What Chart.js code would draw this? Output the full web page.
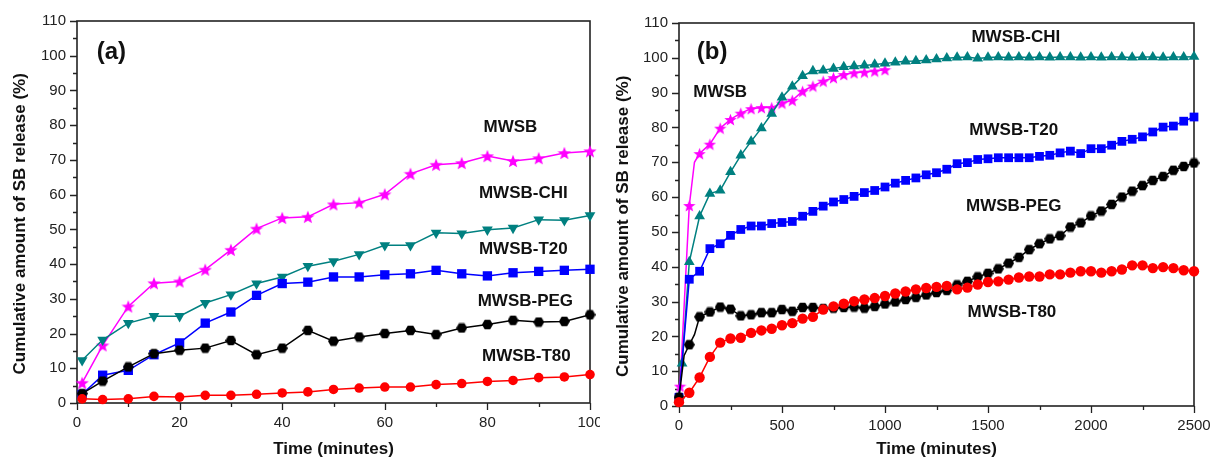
<!DOCTYPE html>
<html>
<head>
<meta charset="utf-8">
<script src="https://cdn.jsdelivr.net/npm/chart.js@4.4.0/dist/chart.umd.min.js"></script>
<style>
html, body { margin: 0; padding: 0; background: #fff; }
#wrapA { position: absolute; left: 0; top: 0; width: 600px; height: 460px; }
#wrapB { position: absolute; left: 600px; top: 0; width: 611px; height: 460px; }
</style>
</head>
<body>
<div id="wrapA"><canvas id="chartA"></canvas></div>
<div id="wrapB"><canvas id="chartB"></canvas></div>
<script>
// ---- panel (a): first 100 minutes ----
const timeA = [1, 5, 10, 15, 20, 25, 30, 35, 40, 45, 50, 55, 60, 65, 70, 75, 80, 85, 90, 95, 100];
const mwsbA = [5.8, 16.6, 27.8, 34.5, 35.0, 38.4, 44.1, 50.2, 53.3, 53.6, 57.2, 57.7, 60.1, 66.0, 68.6, 69.1, 71.1, 69.7, 70.5, 72.0, 72.5];
const chiA  = [12.3, 18.2, 23.0, 25.0, 25.0, 28.8, 31.2, 34.4, 36.3, 39.4, 40.8, 42.8, 45.4, 45.4, 49.0, 48.8, 49.9, 50.4, 52.8, 52.6, 54.0];
const t20A  = [2.5, 8.0, 9.4, 13.9, 17.3, 23.0, 26.2, 31.0, 34.4, 34.8, 36.3, 36.3, 36.9, 37.2, 38.2, 37.2, 36.6, 37.5, 37.9, 38.2, 38.5];
const pegA  = [2.7, 6.3, 10.4, 14.2, 15.2, 15.8, 18.0, 13.9, 15.8, 20.9, 17.8, 19.0, 20.0, 20.9, 19.7, 21.6, 22.6, 23.8, 23.3, 23.5, 25.4];
const t80A  = [1.2, 1.0, 1.2, 1.9, 1.7, 2.2, 2.2, 2.5, 2.9, 3.2, 3.9, 4.3, 4.6, 4.6, 5.3, 5.6, 6.2, 6.5, 7.3, 7.5, 8.2];

// ---- panel (b): up to 2500 minutes ----
const timeB = [0, 50, 100, 150, 200, 250, 300, 350, 400, 450, 500, 550, 600, 650, 700, 750, 800, 850, 900, 950,
  1000, 1050, 1100, 1150, 1200, 1250, 1300, 1350, 1400, 1450, 1500, 1550, 1600, 1650, 1700, 1750, 1800, 1850, 1900, 1950,
  2000, 2050, 2100, 2150, 2200, 2250, 2300, 2350, 2400, 2450, 2500];
const t20B = [2.5, 36.4, 38.7, 45.2, 46.6, 49.0, 50.7, 51.7, 51.7, 52.4, 52.7, 53.0, 54.5, 55.9, 57.4, 58.6, 59.3, 60.2, 61.3, 61.9,
  62.9, 64.0, 64.8, 65.5, 66.4, 67.0, 68.0, 69.6, 69.9, 70.8, 71.0, 71.3, 71.3, 71.3, 71.3, 71.7, 72.0, 72.7, 73.2, 72.5,
  73.9, 73.9, 74.9, 76.0, 76.6, 77.3, 78.7, 80.1, 80.4, 81.8, 83.0];
const t80B = [1.1, 3.8, 8.2, 14.1, 18.2, 19.4, 19.6, 21.0, 21.7, 22.2, 23.2, 23.8, 25.1, 25.6, 27.7, 28.6, 29.4, 30.1, 30.6, 31.0,
  31.6, 32.3, 32.9, 33.5, 33.9, 34.2, 34.5, 33.5, 34.0, 34.9, 35.6, 35.8, 36.3, 36.9, 37.2, 37.2, 37.8, 37.8, 38.3, 38.7,
  38.7, 38.3, 38.7, 39.2, 40.4, 40.4, 39.6, 39.9, 39.6, 39.0, 38.7];
const pegTimeB = [0, 25, 50, 75, 100, 150, 200, 250, 300, 350, 400, 450, 500, 550, 600, 650, 700, 750, 800, 850, 900, 950,
  1000, 1050, 1100, 1150, 1200, 1250, 1300, 1350, 1400, 1450, 1500, 1550, 1600, 1650, 1700, 1750, 1800, 1850, 1900, 1950,
  2000, 2050, 2100, 2150, 2200, 2250, 2300, 2350, 2400, 2450, 2500];
const pegB = [2.5, 14.5, 17.6, 20.5, 25.6, 27.0, 28.4, 27.8, 25.9, 26.2, 26.8, 26.8, 27.7, 27.2, 28.3, 28.3, 28.0, 28.1, 28.3, 28.4, 28.1, 28.6,
  29.3, 29.9, 30.6, 31.2, 31.9, 32.6, 33.2, 34.8, 35.8, 37.1, 38.1, 39.4, 41.0, 42.7, 44.9, 46.6, 48.0, 48.9, 51.4, 52.6,
  54.6, 56.0, 57.9, 60.0, 61.7, 63.3, 64.8, 65.9, 67.7, 68.8, 69.8];
const chiTimeB = [15, 50, 100, 150, 200, 250, 300, 350, 400, 450, 500, 550, 600, 650, 700, 750, 800, 850, 900, 950,
  1000, 1050, 1100, 1150, 1200, 1250, 1300, 1350, 1400, 1450, 1500, 1550, 1600, 1650, 1700, 1750, 1800, 1850, 1900, 1950,
  2000, 2050, 2100, 2150, 2200, 2250, 2300, 2350, 2400, 2450, 2500];
const chiB = [12.2, 41.4, 54.5, 61.0, 61.9, 67.2, 72.0, 76.0, 79.8, 84.0, 88.6, 91.8, 94.8, 96.2, 96.4, 96.9, 97.4, 97.6, 97.8, 98.1,
  98.4, 98.7, 99.0, 99.1, 99.3, 99.6, 99.9, 100.1, 100.2, 99.8, 100.1, 100.2, 100.1, 100.2, 100.1, 100.2, 100.1, 100.2, 100.2, 100.1,
  100.2, 100.1, 100.2, 100.2, 100.1, 100.2, 100.2, 100.1, 100.2, 100.2, 100.3];
const mwsbTimeB = [5, 50, 75, 100, 150, 200, 250, 300, 350, 400, 450, 500, 550, 600, 650, 700, 750, 800, 850, 900, 950, 1000];
const mwsbB = [5.7, 57.6, 70.0, 72.5, 75.2, 79.8, 82.3, 84.1, 85.4, 85.7, 85.7, 87.0, 87.8, 90.4, 91.9, 93.3, 94.3, 95.2, 95.7, 95.9, 96.2, 96.6];

const seriesNames = ['MWSB', 'MWSB-CHI', 'MWSB-T20', 'MWSB-PEG', 'MWSB-T80'];
const yTitle = 'Cumulative amount of SB release (%)';
const xTitle = 'Time (minutes)';

const MAGENTA = '#ff00ff', TEAL = '#008080', BLUE = '#0000ff', BLACK = '#000000', RED = '#ff0000';
const FONT = '"Liberation Sans", Arial, sans-serif';

function pts(xs, ys) {
  return xs.map((x, i) => ({ x: x, y: ys[i] }));
}

// filled marker images for star and hexagon
function starImage(size, color) {
  const c = document.createElement('canvas');
  c.width = size; c.height = size;
  const g = c.getContext('2d');
  const cx = size / 2, cy = size / 2 + size * 0.05, R = size / 2, r = R * 0.42;
  g.beginPath();
  for (let i = 0; i < 10; i++) {
    const rad = i % 2 === 0 ? R : r;
    const a = -Math.PI / 2 + i * Math.PI / 5;
    g.lineTo(cx + rad * Math.cos(a), cy + rad * Math.sin(a));
  }
  g.closePath();
  g.fillStyle = color;
  g.fill();
  return c;
}
function hexImage(size, color) {
  const c = document.createElement('canvas');
  c.width = size; c.height = size;
  const g = c.getContext('2d');
  const cx = size / 2, cy = size / 2, R = size / 2;
  g.beginPath();
  for (let i = 0; i < 6; i++) {
    const a = i * Math.PI / 3;
    g.lineTo(cx + R * Math.cos(a), cy + R * Math.sin(a));
  }
  g.closePath();
  g.fillStyle = color;
  g.fill();
  return c;
}

// outward major/minor ticks + box frame
const frameTicks = {
  id: 'frameTicks',
  beforeDatasetsDraw(chart) {
    const ctx = chart.ctx, a = chart.chartArea;
    const xs = chart.scales.x, ys = chart.scales.y;
    ctx.save();
    ctx.strokeStyle = '#222';
    ctx.lineWidth = 1.3;
    ctx.beginPath();
    xs.ticks.forEach(t => {
      const p = Math.round(xs.getPixelForValue(t.value)) + 0.5;
      const len = t.label !== '' ? 7 : 4;
      ctx.moveTo(p, a.bottom);
      ctx.lineTo(p, a.bottom + len);
    });
    ys.ticks.forEach(t => {
      const p = Math.round(ys.getPixelForValue(t.value)) + 0.5;
      const len = t.label !== '' ? 7 : 4;
      ctx.moveTo(a.left, p);
      ctx.lineTo(a.left - len, p);
    });
    ctx.stroke();
    ctx.lineWidth = 1.6;
    ctx.strokeRect(a.left, a.top, a.right - a.left, a.bottom - a.top);
    ctx.restore();
  }
};

// panel tag and series names written inside the plot
const textLabels = {
  id: 'textLabels',
  afterDraw(chart, args, opts) {
    const ctx = chart.ctx;
    ctx.save();
    ctx.fillStyle = '#111';
    ctx.textAlign = 'center';
    ctx.textBaseline = 'middle';
    (opts.items || []).forEach(it => {
      ctx.font = it.font;
      ctx.fillText(it.text, chart.scales.x.getPixelForValue(it.x), chart.scales.y.getPixelForValue(it.y));
    });
    ctx.restore();
  }
};

function makeOptions(cfg) {
  return {
    responsive: true,
    maintainAspectRatio: false,
    animation: false,
    layout: { padding: { left: 0, top: cfg.padTop, right: cfg.padRight, bottom: 0 } },
    plugins: {
      legend: { display: false },
      tooltip: { enabled: false },
      textLabels: { items: cfg.labels }
    },
    scales: {
      x: {
        type: 'linear',
        min: 0,
        max: cfg.xMax,
        border: { display: false },
        grid: { display: true, drawOnChartArea: false, drawTicks: true, tickLength: 7, tickColor: 'rgba(0,0,0,0)' },
        ticks: {
          stepSize: cfg.xStep,
          autoSkip: false,
          maxRotation: 0,
          padding: 4,
          color: '#222',
          font: { family: FONT, size: 15 },
          callback: v => (v % cfg.xMajor === 0 ? String(v) : '')
        },
        title: { display: true, text: xTitle, color: '#111', padding: { top: 0, bottom: 0 }, font: { family: FONT, size: 17, weight: 'bold' } },
        afterFit: s => { s.height = cfg.xHeight; s.paddingLeft = 0; s.paddingRight = 0; }
      },
      y: {
        type: 'linear',
        min: 0,
        max: 110,
        border: { display: false },
        grid: { display: true, drawOnChartArea: false, drawTicks: true, tickLength: 7, tickColor: 'rgba(0,0,0,0)' },
        ticks: {
          stepSize: 5,
          autoSkip: false,
          padding: 4,
          color: '#222',
          font: { family: FONT, size: 15 },
          callback: v => (v % 10 === 0 ? String(v) : '')
        },
        title: { display: true, text: yTitle + '     ', color: '#111', padding: { top: cfg.yTitlePad, bottom: 0 }, font: { family: FONT, size: 17, weight: 'bold' } },
        afterFit: s => { s.width = cfg.yWidth; s.paddingTop = 0; s.paddingBottom = 0; }
      }
    }
  };
}

function ds(label, data, color, style, radius, extra) {
  return Object.assign({
    label: label,
    data: data,
    borderColor: color,
    backgroundColor: color,
    pointBackgroundColor: color,
    pointBorderColor: color,
    pointBorderWidth: 0,
    borderWidth: 1.5,
    pointStyle: style,
    pointRadius: radius,
    tension: 0,
    clip: false
  }, extra || {});
}

const labelFont = 'bold 17px ' + FONT;
const tagFont = 'bold 24px ' + FONT;

// ---- chart (a) ----
new Chart(document.getElementById('chartA'), {
  type: 'line',
  data: {
    datasets: [
      ds(seriesNames[4], pts(timeA, t80A), RED, 'circle', 4.8),
      ds(seriesNames[3], pts(timeA, pegA), BLACK, hexImage(11, BLACK), 5),
      ds(seriesNames[2], pts(timeA, t20A), BLUE, 'rect', 6.6),
      ds(seriesNames[1], pts(timeA, chiA), TEAL, 'triangle', 6.2, { pointRotation: 180 }),
      ds(seriesNames[0], pts(timeA, mwsbA), MAGENTA, starImage(14, MAGENTA), 5)
    ]
  },
  options: makeOptions({
    xMax: 100, xStep: 10, xMajor: 20, xHeight: 57, yWidth: 77, padTop: 21, padRight: 10, yTitlePad: 10,
    labels: [
      { text: '(a)', x: 6.7, y: 100.9, font: tagFont },
      { text: seriesNames[0], x: 84.5, y: 79.3, font: labelFont },
      { text: seriesNames[1], x: 87.0, y: 60.5, font: labelFont },
      { text: seriesNames[2], x: 87.0, y: 44.3, font: labelFont },
      { text: seriesNames[3], x: 87.4, y: 29.3, font: labelFont },
      { text: seriesNames[4], x: 87.6, y: 13.5, font: labelFont }
    ]
  }),
  plugins: [frameTicks, textLabels]
});

// ---- chart (b) ----
const markB = c => {
  const x = c.raw ? c.raw.x : 0;
  return x % 50 === 0 || x < 20;
};
new Chart(document.getElementById('chartB'), {
  type: 'line',
  data: {
    datasets: [
      ds(seriesNames[4], pts(timeB, t80B), RED, 'circle', 5.2),
      ds(seriesNames[3], pts(pegTimeB, pegB), BLACK, hexImage(11, BLACK), c => (markB(c) ? 5 : 0)),
      ds(seriesNames[2], pts(timeB, t20B), BLUE, 'rect', 6.2),
      ds(seriesNames[1], pts(chiTimeB, chiB), TEAL, 'triangle', 6.2),
      ds(seriesNames[0], pts(mwsbTimeB, mwsbB), MAGENTA, starImage(13, MAGENTA), c => (markB(c) ? 5 : 0))
    ]
  },
  options: makeOptions({
    xMax: 2500, xStep: 250, xMajor: 500, xHeight: 54, yWidth: 79, padTop: 23, padRight: 17, yTitlePad: 13,
    labels: [
      { text: '(b)', x: 161, y: 101.6, font: tagFont },
      { text: seriesNames[1], x: 1635, y: 106.0, font: labelFont },
      { text: seriesNames[0], x: 200, y: 90.1, font: labelFont },
      { text: seriesNames[2], x: 1625, y: 79.2, font: labelFont },
      { text: seriesNames[3], x: 1625, y: 57.4, font: labelFont },
      { text: seriesNames[4], x: 1616, y: 26.9, font: labelFont }
    ]
  }),
  plugins: [frameTicks, textLabels]
});
</script>
</body>
</html>
